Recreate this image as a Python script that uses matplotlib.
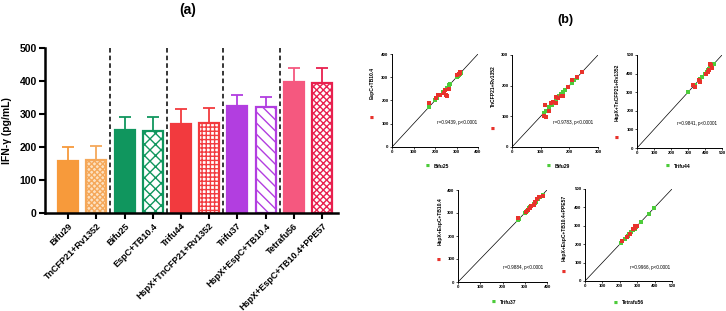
import matplotlib
matplotlib.use("Agg")
import matplotlib.pyplot as plt
import numpy as np

plt.rcParams['font.family'] = ['Liberation Sans', 'DejaVu Sans']
plt.rcParams['hatch.linewidth'] = 1.0

# ---------------- Panel (a) data ----------------
categories = ["Bifu29", "TnCFP21+Rv1352", "Bifu25", "EspC+TB10.4", "Trifu44",
              "HspX+TnCFP21+Rv1352", "Trifu37", "HspX+EspC+TB10.4", "Tetrafu56",
              "HspX+EspC+TB10.4+PPE57"]
means = [158, 160, 252, 250, 270, 272, 324, 321, 397, 395]
errors = [42, 42, 40, 41, 46, 45, 34, 32, 43, 43]
yticks_a = [0, 100, 200, 300, 400, 500]

# ---------------- Panel (b) data ----------------
sc1_x_label, sc1_y_label = "Bifu25", "EspC+TB10.4"
sc1_red_x = [170, 205, 215, 225, 240, 250, 255, 248, 265, 300, 310, 315, 318]
sc1_red_y = [188, 210, 222, 225, 232, 222, 220, 245, 250, 308, 312, 318, 322]
sc1_green = [170, 200, 210, 235, 245, 255, 265, 270, 300, 305, 310, 315, 320]
sc1_stat = "r=0.9439, p<0.0001"
sc1_ticks = [0, 100, 200, 300, 400]

sc2_x_label, sc2_y_label = "Bifu29", "TnCFP21+Rv1352"
sc2_red_x = [110, 115, 120, 130, 135, 142, 152, 155, 162, 170, 178, 195, 210, 225, 245]
sc2_red_y = [102, 137, 97, 118, 143, 147, 142, 162, 160, 165, 167, 197, 220, 228, 245]
sc2_green = [110, 118, 130, 138, 145, 155, 165, 172, 178, 185, 210, 218, 225, 245]
sc2_stat = "r=0.9783, p<0.0001"
sc2_ticks = [0, 100, 200, 300]

sc3_x_label, sc3_y_label = "Trifu44", "HspX+TnCFP21+Rv1352"
sc3_red_x = [330, 340, 365, 370, 405, 415, 425, 430, 440, 435]
sc3_red_y = [340, 330, 365, 355, 400, 410, 420, 450, 430, 445]
sc3_green = [300, 340, 370, 380, 400, 410, 415, 420, 425, 430, 440, 450]
sc3_stat = "r=0.9841, p<0.0001"
sc3_ticks = [0, 100, 200, 300, 400, 500]

sc4_x_label, sc4_y_label = "Trifu37", "HspX+EspC+TB10.4"
sc4_red_x = [270, 305, 315, 325, 330, 340, 345, 355, 365, 380]
sc4_red_y = [280, 305, 312, 320, 330, 335, 350, 360, 370, 375]
sc4_green = [270, 275, 300, 310, 320, 325, 330, 340, 345, 350, 360, 370, 380]
sc4_stat = "r=0.9884, p<0.0001"
sc4_ticks = [0, 100, 200, 300, 400]

sc5_x_label, sc5_y_label = "Tetrafu56", "HspX+EspC+TB10.4+PPE57"
sc5_red_x = [210, 240, 260, 275, 285, 290, 300]
sc5_red_y = [215, 240, 255, 280, 290, 300, 300]
sc5_green = [205, 230, 245, 255, 265, 275, 285, 295, 320, 365, 395]
sc5_stat = "r=0.9966, p<0.0001"
sc5_ticks = [0, 100, 200, 300, 400, 500]

W, H = 726, 311
fig = plt.figure(figsize=(W / 100, H / 100), dpi=100)


def ax_px(l, t, r, b):
    return fig.add_axes([l / W, 1 - b / H, (r - l) / W, (b - t) / H])


# ---------------- Panel (a) ----------------
axa = ax_px(45, 48, 338, 213)
orange, green, red, purple, pink, crimson = "#F79A3B", "#10965E", "#F23A3E", "#B23EE0", "#F5587F", "#E8204E"
face = [orange, "#FDE1C0", green, "white", red, "white", purple, "white", pink, "white"]
edge = [orange, "#F5A85A", green, green, red, red, purple, purple, pink, crimson]
hatch = [None, "xxxxxx", None, "xxx", None, "++++", None, "\\\\\\", None, "xxxxx"]
x = np.arange(len(categories))
for i in range(len(categories)):
    axa.bar(x[i], means[i], width=0.71, color=face[i], edgecolor=edge[i],
            linewidth=1.6, hatch=hatch[i], zorder=2)
    axa.errorbar(x[i], means[i], yerr=[[0], [errors[i]]], fmt="none",
                 ecolor=edge[i], elinewidth=1.3, capsize=4, capthick=1.3, zorder=3)
for xv in [1.5, 3.5, 5.5, 7.5]:
    axa.plot([xv, xv], [0, 500], ls=(0, (3, 2)), color="black", lw=1.1, zorder=1)
axa.set_xlim(-0.82, 9.57)
axa.set_ylim(0, 500)
axa.set_yticks(yticks_a)
axa.set_yticklabels([str(v) for v in yticks_a], fontsize=7.5, fontweight="bold")
axa.set_xticks(x)
axa.set_xticklabels(categories, rotation=45, ha="right", rotation_mode="anchor",
                    fontsize=6.5, fontweight="bold")
for s in ["top", "right"]:
    axa.spines[s].set_visible(False)
for s in ["left", "bottom"]:
    axa.spines[s].set_linewidth(1.8)
axa.tick_params(width=1.5, length=4, pad=2)
axa.set_ylabel("IFN-γ (pg/mL)", fontsize=7.5, fontweight="bold", labelpad=5)
fig.text(188 / W, 1 - 10 / H, "(a)", ha="center", va="center", fontsize=10, fontweight="bold")
fig.text(565 / W, 1 - 20 / H, "(b)", ha="center", va="center", fontsize=9, fontweight="bold")

# ---------------- Panel (b) ----------------
RED = "#E8322B"
GRN = "#4CCB3A"
specs = [
    ((392, 54, 478, 147), sc1_ticks, sc1_red_x, sc1_red_y, sc1_green, sc1_stat,
     sc1_x_label, sc1_y_label, (428, 166), (372, 118), (372, 83), (457, 122)),
    ((512, 55, 598, 147), sc2_ticks, sc2_red_x, sc2_red_y, sc2_green, sc2_stat,
     sc2_x_label, sc2_y_label, (549, 166), (493, 129), (493, 86), (573, 122)),
    ((637, 55, 722, 148), sc3_ticks, sc3_red_x, sc3_red_y, sc3_green, sc3_stat,
     sc3_x_label, sc3_y_label, (668, 166), (617, 138), (617, 92), (697, 124)),
    ((458, 190, 547, 282), sc4_ticks, sc4_red_x, sc4_red_y, sc4_green, sc4_stat,
     sc4_x_label, sc4_y_label, (494, 302), (439, 260), (440, 221), (523, 267)),
    ((585, 189, 672, 281), sc5_ticks, sc5_red_x, sc5_red_y, sc5_green, sc5_stat,
     sc5_x_label, sc5_y_label, (616, 303), (564, 272), (564, 228), (650, 268)),
]
for (box, ticks, rx, ry, gx, stat, xl, yl, gpos, rpos, ypos, spos) in specs:
    ax = ax_px(*box)
    m = ticks[-1]
    ax.plot([0, m], [0, m], color="black", lw=0.5, zorder=1)
    ax.scatter(gx, gx, s=6, marker="s", color=GRN, linewidths=0, zorder=2)
    ax.scatter(rx, ry, s=8, marker="s", color=RED, linewidths=0, zorder=3)
    ax.set_xlim(0, m)
    ax.set_ylim(0, m)
    ax.set_xticks(ticks)
    ax.set_yticks(ticks)
    ax.set_xticklabels([str(t) for t in ticks], fontsize=3.2, fontweight="bold")
    ax.set_yticklabels([str(t) for t in ticks], fontsize=3.2, fontweight="bold")
    ax.tick_params(width=0.5, length=1.5, pad=1)
    for s in ["top", "right"]:
        ax.spines[s].set_visible(False)
    for s in ["left", "bottom"]:
        ax.spines[s].set_linewidth(0.7)
    fig.text(spos[0] / W, 1 - spos[1] / H, stat, ha="center", va="center", fontsize=3.3)
    # x legend (green marker + label)
    fig.text(gpos[0] / W, 1 - gpos[1] / H, "■", ha="center", va="center",
             fontsize=3, color=GRN, family="DejaVu Sans")
    fig.text((gpos[0] + 6) / W, 1 - gpos[1] / H, xl, ha="left", va="center",
             fontsize=3.6, fontweight="bold")
    # y legend (red marker + rotated label)
    fig.text(rpos[0] / W, 1 - rpos[1] / H, "■", ha="center", va="center",
             fontsize=3, color=RED, family="DejaVu Sans")
    fig.text(ypos[0] / W, 1 - ypos[1] / H, yl, ha="center", va="center", rotation=90,
             fontsize=3.6, fontweight="bold")

fig.savefig("out.png", dpi=100)
